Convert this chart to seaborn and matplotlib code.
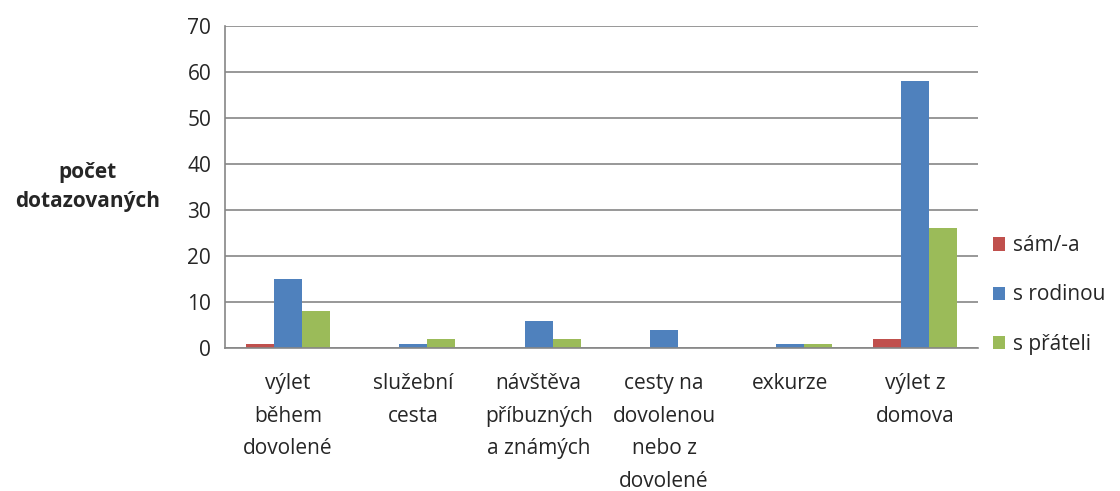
import matplotlib.pyplot as plt
import matplotlib.ticker as mticker
import pandas as pd
import seaborn as sns

categories = ["výlet\nběhem\ndovolené", "služební\ncesta", "návštěva\npříbuzných\na známých",
              "cesty na\ndovolenou\nnebo z\ndovolené", "exkurze", "výlet z\ndomova"]
series = ["sám/-a", "s rodinou", "s přáteli"]
sam = [1, 0, 0, 0, 0, 2]
rodina = [15, 1, 6, 4, 1, 58]
pratele = [8, 2, 2, 0, 1, 26]
colors = ["#C0504D", "#4F81BD", "#9BBB59"]

df = pd.DataFrame({"kategorie": categories * 3,
                   "skupina": [series[0]] * 6 + [series[1]] * 6 + [series[2]] * 6,
                   "pocet": sam + rodina + pratele})

sns.set_style("white")
plt.rcParams["font.family"] = ["Open Sans", "DejaVu Sans"]
fs = 15

fig = plt.figure(figsize=(11.2, 4.91), dpi=100)
ax = fig.add_axes([0.201, 0.291, 0.672, 0.656])

sns.barplot(data=df, x="kategorie", y="pocet", hue="skupina", order=categories,
            hue_order=series, palette=colors, width=0.67, saturation=1,
            edgecolor="none", linewidth=0, ax=ax)

ax.set_ylim(0, 70)
ax.set_xlim(-0.5, 5.5)
ax.yaxis.set_major_locator(mticker.MultipleLocator(10))
ax.grid(axis="y", color="#868686", linewidth=1.2)
ax.set_axisbelow(True)
for s in ["top", "right"]:
    ax.spines[s].set_visible(False)
for s in ["left", "bottom"]:
    ax.spines[s].set_color("#868686")
    ax.spines[s].set_linewidth(1.2)

ax.tick_params(axis="y", length=5, color="#868686", labelsize=fs, pad=5)
ax.tick_params(axis="x", which="major", length=0, labelsize=fs, pad=18)
ax.set_xticks([i - 0.5 for i in range(7)], minor=True)
ax.tick_params(axis="x", which="minor", length=6, color="#868686", width=1.2)
for lbl in ax.get_xticklabels():
    lbl.set_linespacing(1.72)

ax.set_xlabel("")
ax.set_ylabel("počet\ndotazovaných", fontsize=fs, fontweight="bold", rotation=0,
              ha="center", va="center", labelpad=0, linespacing=1.5)
ax.yaxis.set_label_coords(-0.183, 0.50)

ax.legend(loc="center left", bbox_to_anchor=(0.995, 0.165), frameon=False,
          fontsize=fs, handlelength=0.6, handleheight=0.6, labelspacing=1.35,
          handletextpad=0.35)

fig.savefig("out.png", dpi=100)
